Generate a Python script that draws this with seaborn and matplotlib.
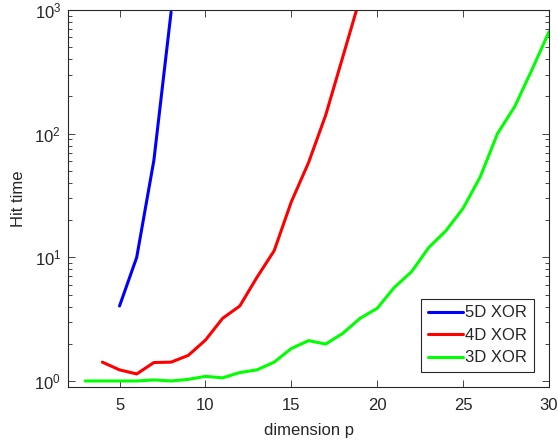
import numpy as np
import pandas as pd
import matplotlib
matplotlib.use("Agg")
import matplotlib.pyplot as plt
import seaborn as sns
from matplotlib.ticker import LogLocator, NullFormatter, FixedLocator

# Data
p5 = [5, 6, 7, 8]
t5 = [4.04, 10.0, 61.0, 960.0]
p4 = list(range(4, 20))
t4 = [1.42, 1.23, 1.14, 1.41, 1.42, 1.61, 2.14, 3.21, 4.04, 6.89, 11.3, 28.1, 58.2, 141, 419, 1250]
p3 = list(range(3, 31))
t3 = [1.0, 1.0, 1.0, 1.0, 1.02, 1.0, 1.03, 1.09, 1.06, 1.17, 1.23, 1.42, 1.83, 2.12,
      1.99, 2.43, 3.21, 3.87, 5.72, 7.65, 12.0, 16.4, 24.9, 44.8, 100, 165, 327, 666]
labels = ["5D XOR", "4D XOR", "3D XOR"]
colors = ["#0000ff", "#ff0000", "#00ff00"]
xticks = [5, 10, 15, 20, 25, 30]

df = pd.concat([
    pd.DataFrame({"p": p5, "t": t5, "series": labels[0]}),
    pd.DataFrame({"p": p4, "t": t4, "series": labels[1]}),
    pd.DataFrame({"p": p3, "t": t3, "series": labels[2]}),
], ignore_index=True)

sns.set_theme(style="ticks")
plt.rcParams["font.family"] = ["Liberation Sans", "DejaVu Sans"]
plt.rcParams["mathtext.default"] = "regular"

fig = plt.figure(figsize=(5.58, 4.42), dpi=100)
ax = fig.add_axes([68/558, 1-387/442, (549-68)/558, (387-10)/442])

sns.lineplot(data=df, x="p", y="t", hue="series", hue_order=labels,
             palette=dict(zip(labels, colors)), linewidth=2.2, ax=ax,
             legend=True)

ax.set_yscale("log")
ax.set_xlim(2, 30)
ax.set_ylim(0.894, 1000)
ax.xaxis.set_major_locator(FixedLocator(xticks))
ax.yaxis.set_major_locator(LogLocator(base=10, numticks=10))
ax.yaxis.set_minor_locator(LogLocator(base=10, subs=np.arange(2, 10), numticks=20))
ax.yaxis.set_minor_formatter(NullFormatter())

axc = "#262626"
fs = 12
for s in ax.spines.values():
    s.set_visible(True)
    s.set_color(axc)
    s.set_linewidth(0.8)
ax.tick_params(which="both", direction="in", top=True, right=True, colors=axc,
               labelcolor=axc, labelsize=fs)
ax.tick_params(which="major", length=5, width=0.6)
ax.tick_params(which="minor", length=3, width=0.6)
ax.tick_params(axis="x", which="major", pad=8)
ax.tick_params(axis="y", which="major", pad=5)

ax.set_xlabel("dimension p", fontsize=fs, color=axc, labelpad=7)
ax.set_ylabel("Hit time", fontsize=fs, color=axc, labelpad=6)

leg = ax.legend(loc="lower right", fontsize=fs, frameon=True, fancybox=False,
                edgecolor=axc, framealpha=1, handlelength=2.1, borderaxespad=0.9,
                labelspacing=0.45, handletextpad=0.15, borderpad=0.4)
leg.get_frame().set_linewidth(0.8)
leg.set_title(None)

fig.savefig("out.png", dpi=100)
